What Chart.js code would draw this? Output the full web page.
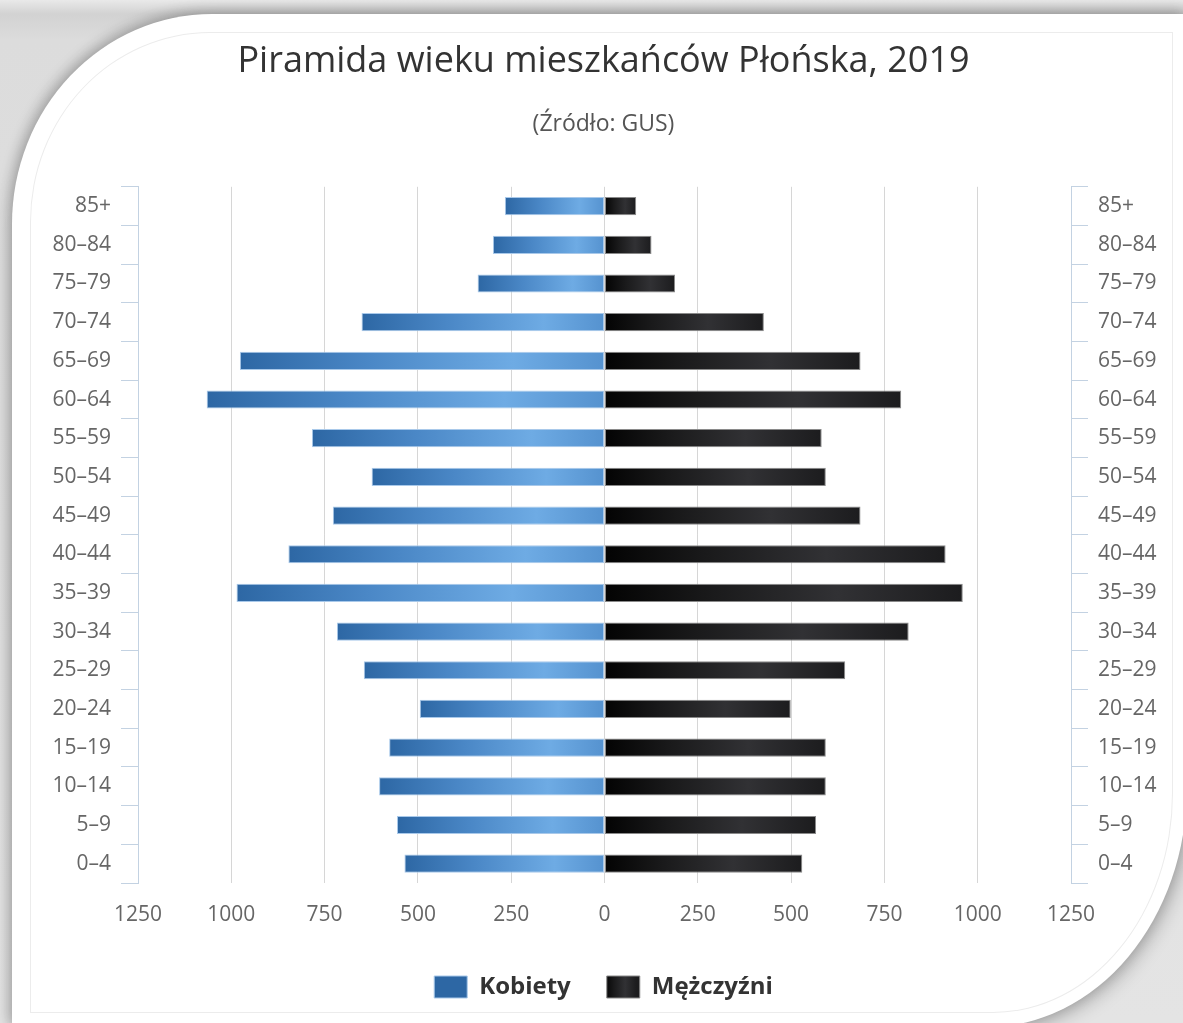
<!DOCTYPE html>
<html>
<head>
<meta charset="utf-8">
<title>Piramida wieku mieszkańców Płońska, 2019</title>
<script src="https://cdn.jsdelivr.net/npm/chart.js@4.4.1/dist/chart.umd.min.js"></script>
<style>
  html, body { margin: 0; padding: 0; }
  body {
    width: 1183px; height: 1023px; overflow: hidden; position: relative;
    background: linear-gradient(180deg, #e9e9e9 0px, #d2d2d2 14px, #dcdcdc 40px, #e4e4e4 100%);
  }
  #card {
    position: absolute; left: 12px; top: 14px; right: -4px; bottom: -4px;
    background: #fff;
    border-radius: 200px 0 200px 0 / 210px 0 240px 0;
    box-shadow: -3px -3px 14px rgba(0,0,0,0.22), 4px 4px 18px rgba(0,0,0,0.25);
  }
  #inner {
    position: absolute; left: 30px; top: 32px; width: 1141px; height: 979px;
    border: 1px solid #ececec;
    border-radius: 180px 0 180px 0 / 190px 0 220px 0;
  }
  #wrap { position: absolute; left: 0; top: 0; width: 1183px; height: 1023px; }
</style>
</head>
<body>
<div id="card"></div>
<div id="inner"></div>
<div id="wrap"><canvas id="pyramid" width="1183" height="1023"></canvas></div>
<script>
// age groups, top row first
var ageGroups = ['85+', '80–84', '75–79', '70–74', '65–69', '60–64', '55–59', '50–54', '45–49',
                 '40–44', '35–39', '30–34', '25–29', '20–24', '15–19', '10–14', '5–9', '0–4'];
var women = [267, 299, 340, 651, 977, 1066, 784, 624, 728, 847, 986, 717, 645, 495, 577, 604, 556, 536];
var men   = [85, 126, 189, 427, 686, 795, 582, 593, 686, 914, 960, 815, 645, 499, 593, 593, 567, 530];
var xTicks = [-1250, -1000, -750, -500, -250, 0, 250, 500, 750, 1000, 1250];

var FONT = "'Open Sans', 'DejaVu Sans', sans-serif";

// gradient along each bar, dark at the outer end
function barFill(stops, plain) {
    return function(ctx) {
        var chart = ctx.chart;
        if (ctx.type !== 'data' || !chart.chartArea || !chart.scales.x) return plain;
        var sx = chart.scales.x;
        var x0 = sx.getPixelForValue(0);
        var x1 = sx.getPixelForValue(ctx.raw);
        if (Math.abs(x1 - x0) < 1) return plain;
        var g = chart.ctx.createLinearGradient(x1, 0, x0, 0);
        stops.forEach(function(s) { g.addColorStop(s[0], s[1]); });
        return g;
    };
}

var blueStops = [[0, '#2d67a4'], [0.35, '#4a87c6'], [0.75, '#6eabe4'], [1, '#5592cf']];
var blackStops = [[0, '#1c1c1e'], [0.35, '#313134'], [0.7, '#1a1a1b'], [1, '#030303']];

var chart = new Chart(document.getElementById('pyramid'), {
    type: 'bar',
    data: {
        labels: ageGroups,
        datasets: [{
            label: 'Kobiety',
            data: women.map(function(v) { return -v; }),
            backgroundColor: barFill(blueStops, '#4a88c8'),
            borderColor: '#a9c9ea',
            borderWidth: 1,
            borderSkipped: false,
            barPercentage: 0.47,
            categoryPercentage: 1
        }, {
            label: 'Mężczyźni',
            data: men,
            backgroundColor: barFill(blackStops, '#161616'),
            borderColor: '#8a8a8a',
            borderWidth: 1,
            borderSkipped: false,
            barPercentage: 0.47,
            categoryPercentage: 1
        }]
    },
    options: {
        indexAxis: 'y',
        responsive: false,
        devicePixelRatio: 1,
        animation: false,
        layout: { padding: { top: 40, bottom: 14, left: 24, right: 0 } },
        scales: {
            x: {
                stacked: true,
                min: -1250,
                max: 1250,
                afterBuildTicks: function(scale) {
                    scale.ticks = xTicks.map(function(v) { return { value: v }; });
                },
                afterFit: function(scale) { scale.height = 56; },
                grid: {
                    color: function(ctx) {
                        return Math.abs(ctx.tick && ctx.tick.value) === 1250 ? 'rgba(0,0,0,0)' : '#d6d6d6';
                    },
                    drawTicks: false
                },
                border: { display: false },
                ticks: {
                    padding: 19,
                    color: '#666',
                    font: { family: FONT, size: 21 },
                    callback: function(v) { return Math.abs(v); }
                }
            },
            y: {
                stacked: true,
                position: 'left',
                afterFit: function(scale) { scale.width = 114; },
                grid: { offset: true, drawOnChartArea: false, color: '#c3d2e2', tickLength: 17 },
                border: { display: true, color: '#c3d2e2' },
                ticks: { padding: 10, color: '#666', font: { family: FONT, size: 21 } }
            },
            y2: {
                type: 'category',
                labels: ageGroups,
                position: 'right',
                offset: true,
                afterFit: function(scale) { scale.width = 112; },
                grid: { offset: true, drawOnChartArea: false, color: '#c3d2e2', tickLength: 17 },
                border: { display: true, color: '#c3d2e2' },
                ticks: { padding: 10, color: '#666', font: { family: FONT, size: 21 } }
            }
        },
        plugins: {
            title: {
                display: true,
                text: 'Piramida wieku mieszkańców Płońska, 2019',
                color: '#333',
                font: { family: FONT, size: 36, weight: 'normal' },
                padding: { top: 0, bottom: 0 }
            },
            subtitle: {
                display: true,
                text: '(Źródło: GUS)',
                color: '#555',
                font: { family: FONT, size: 23, weight: 'normal' },
                padding: { top: 27, bottom: 49 }
            },
            legend: {
                position: 'bottom',
                labels: {
                    boxWidth: 33,
                    boxHeight: 22,
                    padding: 36,
                    color: '#333',
                    font: { family: FONT, size: 24, weight: 'bold' }
                }
            },
            tooltip: {
                callbacks: {
                    label: function(item) { return item.dataset.label + ': ' + Math.abs(item.raw); }
                }
            }
        }
    }
});
</script>
</body>
</html>
